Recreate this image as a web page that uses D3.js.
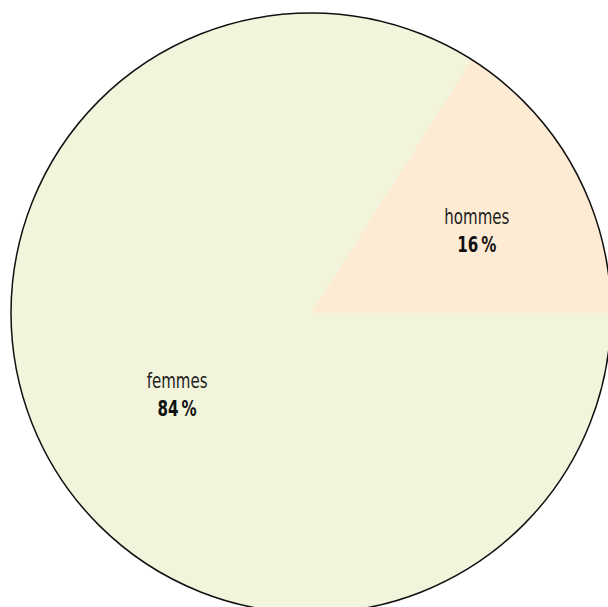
<!DOCTYPE html>
<html><head><meta charset="utf-8">
<script src="https://cdn.jsdelivr.net/npm/d3@7"></script>
<style>
html,body{margin:0;padding:0;background:#fff;overflow:hidden;}
svg{display:block;}
</style></head>
<body>
<svg id="chart" width="608" height="607"></svg>
<script>
const categories = ["hommes", "femmes"];
const values = [16, 84];
const valueLabels = ["16\u202f%", "84\u202f%"];
const colors = ["#fdebd3", "#f2f4dc"];

const W = 608, H = 607;
const cx = 311, cy = 313, r = 300;
const svg = d3.select("#chart");
const g = svg.append("g").attr("transform", `translate(${cx},${cy})`);

const data = categories.map((c, i) => ({cat: c, value: values[i], label: valueLabels[i], color: colors[i]}));
const total = d3.sum(values);
const start = Math.PI / 2 - 2 * Math.PI * values[0] / total;
const pie = d3.pie().value(d => d.value).sort(null)
  .startAngle(start).endAngle(start + 2 * Math.PI);
const arcs = pie(data);
const arc = d3.arc().innerRadius(0).outerRadius(r);

g.selectAll("path.slice").data(arcs).join("path")
  .attr("class", "slice")
  .attr("d", arc)
  .attr("fill", d => d.data.color)
  .attr("stroke", d => d.data.color)
  .attr("stroke-width", 0.5);

g.append("circle").attr("r", r).attr("fill", "none")
  .attr("stroke", "#111").attr("stroke-width", 1.5);

const labelArc = d3.arc().innerRadius(r * 0.57).outerRadius(r * 0.57);
const labels = g.selectAll("g.lab").data(arcs).join("g").attr("class", "lab")
  .attr("transform", d => {
    const [x, y] = labelArc.centroid(d);
    return `translate(${x + 16},${y - 1})`;
  });
labels.append("text").text(d => d.data.cat)
  .attr("text-anchor", "middle")
  .attr("transform", "translate(0,-6) scale(0.76,1)")
  .attr("font-family", "'DejaVu Sans Condensed', 'DejaVu Sans', sans-serif")
  .attr("font-weight", 300)
  .attr("font-size", 22).attr("fill", "#222");
labels.append("text").text(d => d.data.label)
  .attr("text-anchor", "middle")
  .attr("transform", "translate(0,22) scale(0.8,1)")
  .attr("font-family", "'DejaVu Sans Condensed', 'DejaVu Sans', sans-serif")
  .attr("font-weight", "bold")
  .attr("font-size", 21).attr("fill", "#111");
</script>
</body></html>
